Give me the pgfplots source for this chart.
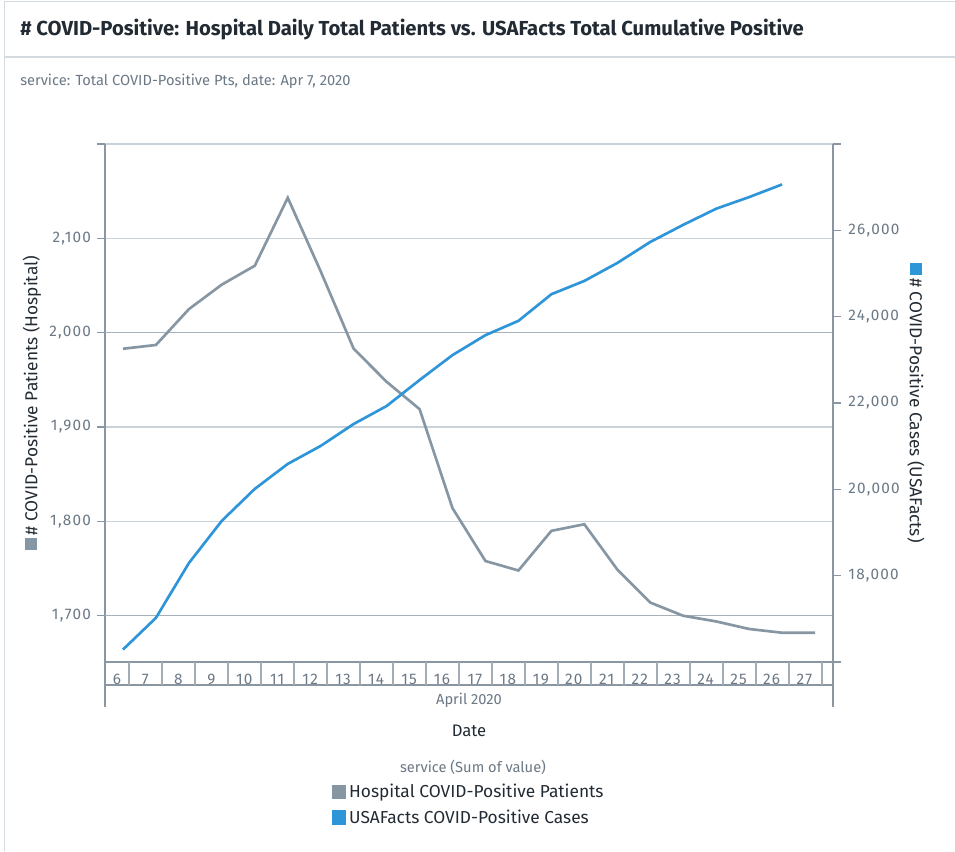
\documentclass[border=0pt]{standalone}
\usepackage{fontspec}
\setmainfont{Fira Sans}
\newfontfamily\tickfont{Fira Sans}[LetterSpace=8]
\usepackage{pgfplots}
\pgfplotsset{compat=1.18}
\definecolor{hosp}{HTML}{8796A3}
\definecolor{usa}{HTML}{2E95D8}
\definecolor{axisgray}{HTML}{8A97A2}
\definecolor{gridlight}{HTML}{C9D2D9}
\definecolor{griddark}{HTML}{A7B1BA}
\definecolor{ticktext}{HTML}{6B7885}
\definecolor{titletext}{HTML}{222B33}
\definecolor{cardline}{HTML}{D3DBE1}
\begin{document}
\begin{tikzpicture}[x=0.75pt,y=0.75pt]
\useasboundingbox (0,0) rectangle (955,851);
% card
\draw[cardline, line width=0.75pt] (4,0) -- (4,849) -- (955,849);
\draw[cardline, line width=1.2pt] (4,794) -- (955,794);
\node[anchor=west, font=\bfseries\fontsize{15.2}{18}\selectfont, text=titletext, inner sep=0pt] at (20,821) {\# COVID-Positive: Hospital Daily Total Patients vs. USAFacts Total Cumulative Positive};
\node[anchor=west, font=\fontsize{11}{13}\selectfont, text=ticktext, inner sep=0pt] at (20,770) {service: Total COVID-Positive Pts, date: Apr 7, 2020};

\begin{axis}[
  at={(78.75pt,141.75pt)}, anchor=south west, scale only axis,
  width=546pt, height=388.5pt,
  xmin=5.454, xmax=27.546, ymin=1651, ymax=2200,
  axis y line*=left, axis x line*=bottom,
  axis line style={axisgray, line width=0.9pt, -},
  ytick={1700,1800,1900,2000,2100,2200},
  yticklabels={1{,}700,1{,}800,1{,}900,2{,}000,2{,}100,{}},
  ymajorgrids, grid style={gridlight, line width=1pt},
  extra y ticks={1700,2000}, extra y tick labels={},
  extra y tick style={grid style={griddark, line width=1pt}},
  tick align=outside, major tick length=6pt,
  y tick style={axisgray, line width=0.9pt},
  yticklabel style={text=ticktext, font=\tickfont\fontsize{11.5}{13}\selectfont, xshift=-1pt},
  xtick={5.82,6.68,7.68,8.68,9.68,10.68,11.68,12.68,13.68,14.68,15.68,16.68,17.68,18.68,19.68,20.68,21.68,22.68,23.68,24.68,25.68,26.68},
  xticklabels={6,7,8,9,10,11,12,13,14,15,16,17,18,19,20,21,22,23,24,25,26,27},
  x tick style={draw=none},
  xticklabel style={anchor=base, yshift=-10.5pt, text=ticktext, font=\tickfont\fontsize{11.5}{13}\selectfont},
]
\addplot[color=hosp, line width=2pt] coordinates {
(6,1983) (7,1987) (8,2025) (9,2051) (10,2071) (11,2143) (12,2065) (13,1983) (14,1948) (15,1919) (16,1814) (17,1758) (18,1748) (19,1790) (20,1797) (21,1749) (22,1714) (23,1700) (24,1694) (25,1686) (26,1682) (27,1682)};
\end{axis}

\begin{axis}[
  at={(78.75pt,141.75pt)}, anchor=south west, scale only axis,
  width=546pt, height=388.5pt,
  xmin=5.454, xmax=27.546, ymin=16000, ymax=28000,
  axis y line*=right, axis x line=none,
  axis line style={axisgray, line width=0.9pt, -},
  scaled y ticks=false,
  ytick={16000,18000,20000,22000,24000,26000,28000},
  yticklabels={{},18{,}000,20{,}000,22{,}000,24{,}000,26{,}000,{}},
  tick align=outside, major tick length=6pt,
  y tick style={axisgray, line width=0.9pt},
  yticklabel style={text=ticktext, font=\tickfont\fontsize{11.5}{13}\selectfont, xshift=2pt},
  legend style={at={(0.5,-0.225)}, anchor=north, draw=none, fill=none,
    font=\fontsize{13}{15}\selectfont, text=titletext, row sep=3.5pt},
  legend cell align=left,
  legend image code/.code={\fill[#1] (0pt,-4.5pt) rectangle (9pt,4.5pt);},
]
\addlegendimage{color=hosp, line width=2pt}
\addlegendentry{Hospital COVID-Positive Patients}
\addplot[color=usa, line width=2pt] coordinates {
(6,16289) (7,17022) (8,18293) (9,19272) (10,20011) (11,20589) (12,21006) (13,21514) (14,21930) (15,22532) (16,23110) (17,23572) (18,23903) (19,24520) (20,24828) (21,25244) (22,25730) (23,26127) (24,26501) (25,26770) (26,27063)};
\addlegendentry{USAFacts COVID-Positive Cases}
\end{axis}

% x band
\draw[axisgray, line width=0.9pt] (105,166) -- (833,166);
\draw[axisgray, line width=0.9pt] (105,189) -- (105,144);
\draw[axisgray, line width=0.9pt] (833,189) -- (833,144);
\foreach \i in {0,...,21} \draw[axisgray!80, line width=0.9pt] ({129+33*\i},189) -- ({129+33*\i},166);
\node[text=ticktext, font=\fontsize{11}{13}\selectfont] at (469,151) {April 2020};
\node[text=titletext, font=\fontsize{12.5}{15}\selectfont] at (469,120) {Date};
\node[text=ticktext, font=\fontsize{11}{13}\selectfont] at (473,84) {service (Sum of value)};
% axis labels
\node[rotate=90, text=titletext, font=\fontsize{13}{15}\selectfont] at (32,448) {\textcolor{hosp}{\rule{9pt}{9pt}}\,\# COVID-Positive Patients (Hospital)};
\node[rotate=-90, text=titletext, font=\fontsize{13}{15}\selectfont] at (916,448) {\textcolor{usa}{\rule{9pt}{9pt}}\,\# COVID-Positive Cases (USAFacts)};
\end{tikzpicture}
\end{document}
